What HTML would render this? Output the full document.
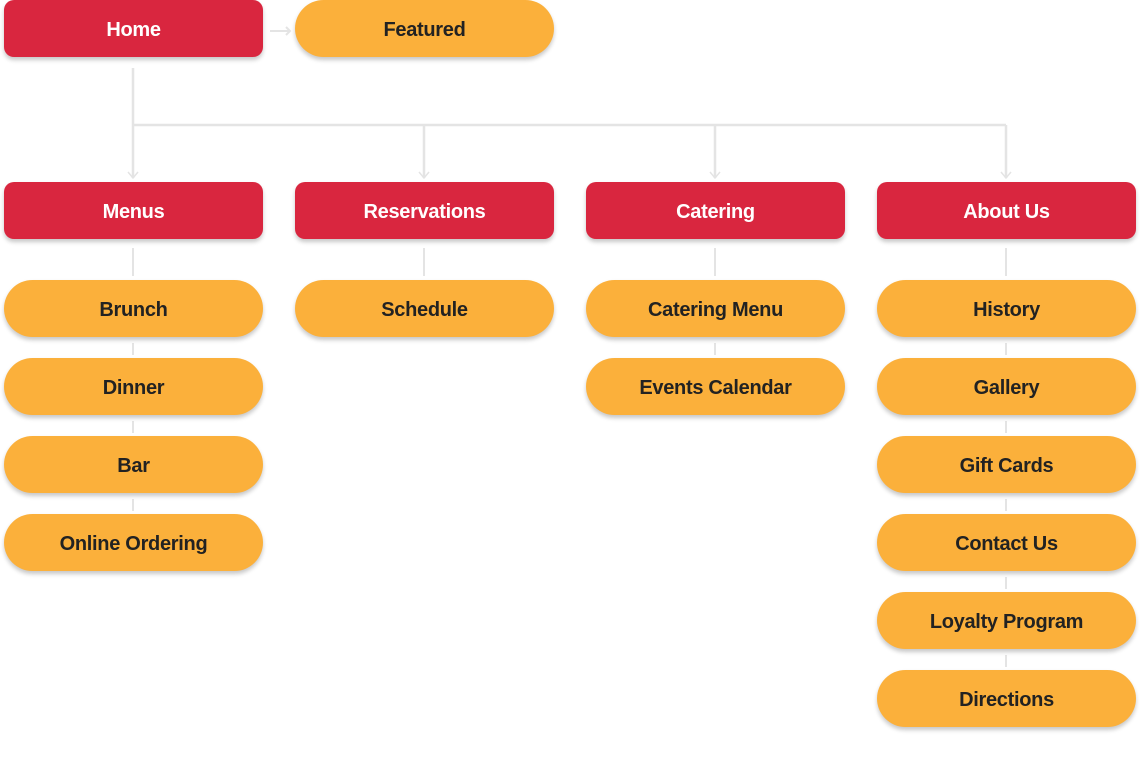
<!DOCTYPE html>
<html><head><style>
body{margin:0;width:1140px;height:760px;background:#fff;position:relative;overflow:hidden;font-family:"Liberation Sans",sans-serif}
.b{position:absolute;width:259px;height:57px;box-sizing:border-box;padding-top:3px;display:flex;align-items:center;justify-content:center;font-weight:bold;font-size:20px;letter-spacing:-0.3px;box-shadow:0 3px 4px rgba(0,0,0,0.22)}
.r{background:#d9263f;color:#fff;border-radius:10px}
.o{background:#fbb03b;color:#222;border-radius:29px}
svg{position:absolute;left:0;top:0}
</style></head><body>
<svg width="1140" height="760" fill="none" stroke="#e4e4e4" stroke-width="2.5">
<path d="M133 68V178M133 125H1006M424 125V178M715 125V178M1006 125V178"/>
<path d="M128 172l5 6 5-6M419 172l5 6 5-6M710 172l5 6 5-6M1001 172l5 6 5-6" stroke-width="1.5"/>
<path d="M270 31H290M286 27l4 4-4 4" stroke-width="2"/>
<g stroke-width="2">
<path d="M133 248V276M424 248V276M715 248V276M1006 248V276"/>
<path d="M133 343V355M133 421V433M133 499V511M715 343V355M1006 343V355M1006 421V433M1006 499V511M1006 577V589M1006 655V667"/>
</g>
</svg>
<div class="b r" style="left:4px;top:0">Home</div>
<div class="b o" style="left:295px;top:0">Featured</div>
<div class="b r" style="left:4px;top:182px">Menus</div>
<div class="b r" style="left:295px;top:182px">Reservations</div>
<div class="b r" style="left:586px;top:182px">Catering</div>
<div class="b r" style="left:877px;top:182px">About Us</div>
<div class="b o" style="left:4px;top:280px">Brunch</div>
<div class="b o" style="left:4px;top:358px">Dinner</div>
<div class="b o" style="left:4px;top:436px">Bar</div>
<div class="b o" style="left:4px;top:514px">Online Ordering</div>
<div class="b o" style="left:295px;top:280px">Schedule</div>
<div class="b o" style="left:586px;top:280px">Catering Menu</div>
<div class="b o" style="left:586px;top:358px">Events Calendar</div>
<div class="b o" style="left:877px;top:280px">History</div>
<div class="b o" style="left:877px;top:358px">Gallery</div>
<div class="b o" style="left:877px;top:436px">Gift Cards</div>
<div class="b o" style="left:877px;top:514px">Contact Us</div>
<div class="b o" style="left:877px;top:592px">Loyalty Program</div>
<div class="b o" style="left:877px;top:670px">Directions</div>
</body></html>
